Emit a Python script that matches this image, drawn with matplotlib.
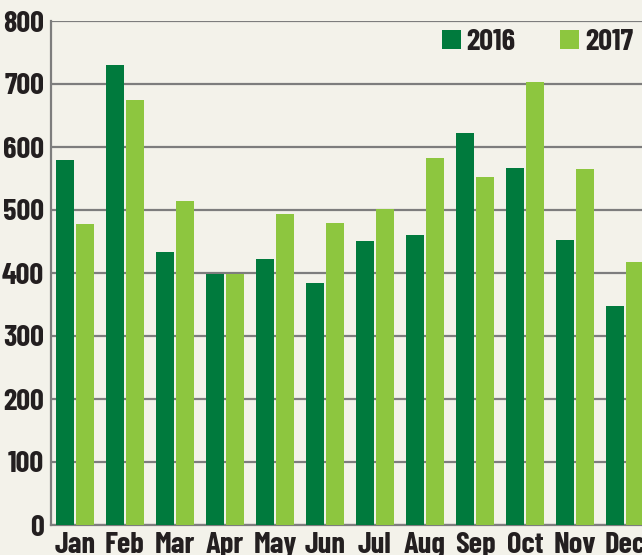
import numpy as np
import matplotlib
matplotlib.use("Agg")
import matplotlib.pyplot as plt
from matplotlib import font_manager

# -----------------------------
# Data
# -----------------------------
months = ["Jan", "Feb", "Mar", "Apr", "May", "Jun",
          "Jul", "Aug", "Sep", "Oct", "Nov", "Dec"]
sales_2016 = [579, 730, 433, 399, 422, 384, 451, 460, 622, 567, 452, 348]
sales_2017 = [477, 675, 514, 399, 494, 479, 502, 583, 552, 703, 565, 417]
y_ticks = [0, 100, 200, 300, 400, 500, 600, 700, 800]

# -----------------------------
# Narrow bold font (Barlow Condensed if present)
# -----------------------------
FS = 22
fp = None
for pref in ["BarlowCondensed-Bold.ttf", "BarlowCondensed-SemiBold.ttf", "AsapCondensed-Bold.ttf"]:
    hits = [f.fname for f in font_manager.fontManager.ttflist if f.fname.endswith("/" + pref)]
    if hits:
        fp = font_manager.FontProperties(fname=hits[0], size=FS)
        break
if fp is None:
    fp = font_manager.FontProperties(family="DejaVu Sans", stretch="condensed", weight="bold", size=FS)

bg = "#f3f2ea"
dark = "#007a3d"
light = "#8dc63f"
grid_col = "#7d7d7d"
txt = "#231f20"

fig = plt.figure(figsize=(6.42, 5.55), dpi=100, facecolor=bg)
ax = fig.add_axes([51 / 642, 30 / 555, 591 / 642, 504 / 555])
ax.set_facecolor(bg)

x = np.arange(len(months))
w = 0.36
ax.bar(x - 0.2, sales_2016, width=w, color=dark, label="2016", zorder=3)
ax.bar(x + 0.2, sales_2017, width=w, color=light, label="2017", zorder=3)

ax.set_xlim(-0.48, 11.34)
ax.set_ylim(0, 800)
ax.set_yticks(y_ticks)
ax.set_xticks(x)
ax.set_xticklabels(months)
ax.yaxis.grid(True, color=grid_col, linewidth=1.6, zorder=0)
ax.set_axisbelow(True)

for s in ["top", "right"]:
    ax.spines[s].set_visible(False)
for s in ["left", "bottom"]:
    ax.spines[s].set_color(grid_col)
    ax.spines[s].set_linewidth(1.6)

ax.tick_params(axis="both", length=0, colors=txt)
ax.tick_params(axis="y", pad=5)
ax.tick_params(axis="x", pad=5)
for lab in ax.get_xticklabels() + ax.get_yticklabels():
    lab.set_fontproperties(fp)

leg = ax.legend(loc="center right", bbox_to_anchor=(0.985, 0.957), ncol=2, frameon=False,
                prop=fp, handlelength=0.62, handleheight=0.62,
                columnspacing=1.45, handletextpad=0.2,
                borderpad=0, borderaxespad=0)
for t in leg.get_texts():
    t.set_color(txt)

fig.savefig("out.png", dpi=100, facecolor=bg)
plt.close(fig)
